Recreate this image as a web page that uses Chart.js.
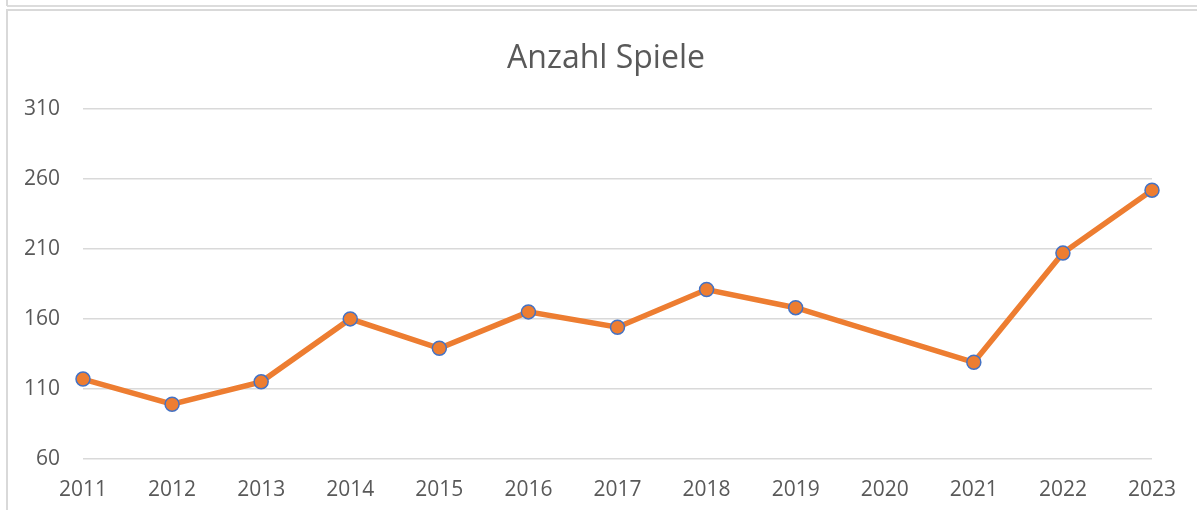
<!DOCTYPE html>
<html>
<head>
<meta charset="utf-8">
<script src="https://cdn.jsdelivr.net/npm/chart.js@4/dist/chart.umd.min.js"></script>
<style>
    html, body { margin: 0; padding: 0; background: #fff; }
    body { width: 1197px; height: 510px; position: relative; overflow: hidden; }
    .line-top { position: absolute; left: 7px; right: 0; top: 5px; height: 0; border-top: 2px solid #dcdcdc; }
    .frame { position: absolute; left: 6px; top: 9px; right: -2px; bottom: -2px; border-left: 2px solid #d9d9d9; border-top: 2px solid #d9d9d9; }
    .stub { position: absolute; left: 6px; top: 0; width: 0; height: 6px; border-left: 2px solid #d9d9d9; }
    #wrap { position: absolute; left: 0; top: 0; width: 1197px; height: 510px; }
    .title {
        position: absolute; left: 406px; width: 400px; top: 37px;
        text-align: center; font-family: "Open Sans"; font-size: 32px; line-height: 38px;
        color: #595959; z-index: 2;
    }
</style>
</head>
<body>
<div class="line-top"></div>
<div class="stub"></div>
<div class="frame"></div>
<div class="title">Anzahl Spiele</div>
<div id="wrap"><canvas id="chart"></canvas></div>
<script>
const years = ["2011", "2012", "2013", "2014", "2015", "2016", "2017", "2018", "2019", "2020", "2021", "2022", "2023"];
const spiele = [117, 99, 115, 160, 139, 165, 154, 181, 168, null, 129, 207, 252];
const yTicks = [60, 110, 160, 210, 260, 310];

document.addEventListener("DOMContentLoaded", () => {
    renderChart();
});

function renderChart() {
    const ctx = document.getElementById("chart").getContext("2d");
    new Chart(ctx, {
        type: "line",
        data: {
            labels: years,
            datasets: [
                {
                    label: "Anzahl Spiele",
                    data: spiele,
                    borderColor: "#ED7D31",
                    borderWidth: 5.5,
                    pointRadius: 7,
                    pointBackgroundColor: "#ED7D31",
                    pointBorderColor: "#4472C4",
                    pointBorderWidth: 1.5,
                    spanGaps: true,
                    tension: 0,
                },
            ],
        },
        options: {
            responsive: true,
            maintainAspectRatio: false,
            animation: false,
            layout: { padding: { left: 0, right: 45, top: 109, bottom: -12 } },
            plugins: {
                legend: { display: false },
                tooltip: { enabled: false },
                title: { display: false },
            },
            scales: {
                x: {
                    offset: false,
                    grid: { display: false, drawTicks: false },
                    border: { display: false },
                    ticks: {
                        color: "#595959",
                        font: { family: "'Open Sans'", size: 21 },
                        padding: 19,
                        maxRotation: 0,
                        autoSkip: false,
                    },
                },
                y: {
                    min: yTicks[0],
                    max: yTicks[yTicks.length - 1],
                    afterBuildTicks: (scale) => {
                        scale.ticks = yTicks.map((v) => ({ value: v }));
                    },
                    afterFit: (scale) => {
                        scale.width = 83;
                    },
                    grid: { color: "#d9d9d9", lineWidth: 1.5, drawTicks: false },
                    border: { display: false },
                    ticks: {
                        color: "#595959",
                        font: { family: "'Open Sans'", size: 21 },
                        padding: 23,
                    },
                },
            },
        },
    });
}
</script>
</body>
</html>
